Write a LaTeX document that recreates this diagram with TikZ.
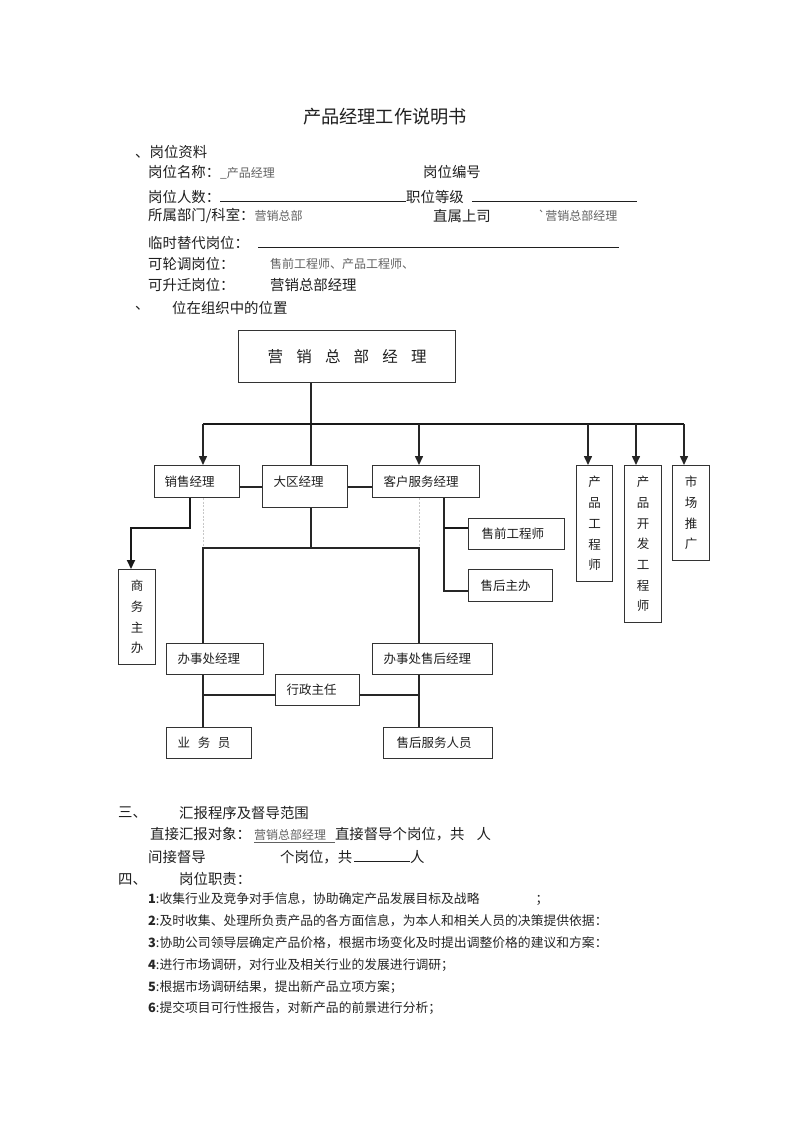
\documentclass[tikz,border=0pt]{standalone}
\usepackage{fontspec}
\setmainfont{Noto Sans CJK SC}
\usetikzlibrary{arrows.meta}
\newcommand\smtxt[1]{{\fontsize{12}{14}\selectfont\color{black!62}#1}}
\newcommand\gp{\hspace{13.2pt}}
\begin{document}
\begin{tikzpicture}[x=1pt,y=-1pt,
  box/.style={draw=black!80, line width=1.2pt, anchor=north west, inner ysep=0pt, inner xsep=11pt,
    font=\fontsize{12.5}{14}\selectfont, text=black!88, align=left},
  vbox/.style={draw=black!80, line width=1.2pt, anchor=north west, inner sep=0pt,
    font=\fontsize{12.5}{20.7}\selectfont, text=black!88, align=center},
  ln/.style={line width=1.2pt, draw=black!85},
  thk/.style={line width=2pt, draw=black!90},
  arr/.style={-{Triangle[length=9pt,width=8pt]}},
  dotl/.style={draw=black!22, line width=0.9pt, dash pattern=on 2pt off 1.5pt},
  txt/.style={anchor=west, inner sep=0pt, font=\fontsize{14.4}{16}\selectfont, text=black!88},
  item/.style={anchor=west, inner sep=0pt, font=\fontsize{12.8}{15}\selectfont, text=black!85}]
\useasboundingbox[fill=white] (0,0) rectangle (800,1132);

% ---------- header text ----------
\node[anchor=center, inner sep=0pt, font=\fontsize{18.2}{20}\selectfont, text=black!88] (title) at (385,117) {产品经理工作说明书};
\node[txt] (t1) at (135,152) {、岗位资料};
\node[txt] (t2) at (148,172) {岗位名称：\smtxt{\_产品经理}};
\node[txt] (t3) at (423,172) {岗位编号};
\node[txt] (t4) at (148,197) {岗位人数：\rule[0.5pt]{186pt}{0.8pt}职位等级\hspace{8pt}\rule[0.5pt]{165pt}{0.8pt}};
\node[txt] (t5) at (148,216) {所属部门/科室：\smtxt{营销总部}};
\node[txt] (t6) at (433,216) {直属上司};
\node[txt] (t7) at (538,216) {\smtxt{\textasciigrave 营销总部经理}};
\node[txt] (t8) at (148,243) {临时替代岗位：\hspace{9pt}\rule[0.5pt]{361pt}{0.8pt}};
\node[txt] (t9) at (148,264) {可轮调岗位：};
\node[txt] (t10) at (270,264) {\smtxt{售前工程师、产品工程师、}};
\node[txt] (t11) at (148,285) {可升迁岗位：};
\node[txt] (t12) at (270,285) {营销总部经理};
\node[txt] (t13) at (135,308) {、};
\node[txt] (t14) at (172,308) {位在组织中的位置};

% ---------- org chart boxes ----------
\node[box, inner xsep=0pt, align=center, minimum width=217pt, minimum height=52pt,
  font=\fontsize{15.5}{17}\selectfont] (gm) at (238,330) {营\gp 销\gp 总\gp 部\gp 经\gp 理};
\node[box, inner xsep=10pt, minimum width=85pt, minimum height=32pt, text width=65pt] (xs) at (154,465) {销售经理};
\node[box, minimum width=85pt, minimum height=42pt, text width=63pt, text height=8pt, text depth=8pt] (dq) at (262,465) {大区经理};
\node[box, minimum width=107pt, minimum height=32pt, text width=85pt] (kf) at (372,465) {客户服务经理};
\node[vbox, minimum width=36pt, minimum height=116pt] (cp1) at (576,465) {产\\品\\工\\程\\师};
\node[vbox, minimum width=37pt, minimum height=157pt] (cp2) at (624,465) {产\\品\\开\\发\\工\\程\\师};
\node[vbox, minimum width=37pt, minimum height=95pt] (sc) at (672,465) {市\\场\\推\\广};
\node[box, inner xsep=13pt, minimum width=96pt, minimum height=31pt, text width=70pt] (sq) at (468,518) {售前工程师};
\node[box, inner xsep=12pt, minimum width=84pt, minimum height=32pt, text width=60pt] (sz) at (468,569) {售后主办};
\node[vbox, minimum width=37pt, minimum height=95pt] (sw) at (118,569) {商\\务\\主\\办};
\node[box, minimum width=97pt, minimum height=31pt, text width=75pt] (bs) at (166,643) {办事处经理};
\node[box, minimum width=120pt, minimum height=31pt, text width=98pt] (bsh) at (372,643) {办事处售后经理};
\node[box, minimum width=84pt, minimum height=31pt, text width=62pt] (xz) at (275,674) {行政主任};
\node[box, minimum width=85pt, minimum height=31pt, text width=63pt] (yw) at (166,727) {业\hspace{7.7pt}务\hspace{7.7pt}员};
\node[box, inner xsep=13pt, minimum width=109pt, minimum height=31pt, text width=83pt] (sh) at (383,727) {售后服务人员};

% ---------- connectors ----------
\coordinate (bL) at (203,424);
\coordinate (bM) at (311,424);
\coordinate (bK) at (419,424);
\coordinate (b1) at (588,424);
\coordinate (b2) at (636,424);
\coordinate (bR) at (684,424);
\draw[ln] (bM |- gm.south) -- (bM |- dq.north);
\draw[thk] (bL) -- (bR);
\draw[ln, line width=1.5pt, arr] (bL) -- (bL |- xs.north);
\draw[ln, line width=1.5pt, arr] (bK) -- (bK |- kf.north);
\draw[ln, line width=1.5pt, arr] (b1) -- (b1 |- cp1.north);
\draw[ln, line width=1.5pt, arr] (b2) -- (b2 |- cp2.north);
\draw[ln, line width=1.5pt, arr] (bR) -- (bR |- sc.north);

\coordinate (r1) at (0,487);
\draw[ln] (xs.east |- r1) -- (dq.west |- r1);
\draw[ln] (dq.east |- r1) -- (kf.west |- r1);

\coordinate (hL) at (203,548);
\coordinate (hR) at (419,548);
\draw[dotl] (hL |- xs.south) -- (hL);
\draw[dotl] (hR |- kf.south) -- (hR);
\draw[ln] (bM |- dq.south) -- (bM |- hL);
\draw[ln] (hL |- bs.north) -- (hL) -- (hR) -- (hR |- bsh.north);

\coordinate (s1) at (190,528);
\coordinate (s2) at (131,528);
\draw[thk, arr] (s1 |- xs.south) -- (s1) -- (s2) -- (s2 |- sw.north);

\coordinate (c1) at (444,528);
\coordinate (c2) at (444,591);
\draw[ln] (c1 |- kf.south) -- (c2) -- (sz.west |- c2);
\draw[thk] (c1) -- (sq.west |- c1);

\coordinate (l1) at (203,695);
\coordinate (l2) at (419,695);
\draw[ln] (l1 |- bs.south) -- (l1 |- yw.north);
\draw[ln] (l2 |- bsh.south) -- (l2 |- sh.north);
\draw[ln] (l1) -- (xz.west |- l1);
\draw[ln] (xz.east |- l1) -- (l2);

% ---------- lower text ----------
\node[txt] (u1) at (118,813) {三、};
\node[txt] (u2) at (179,813) {汇报程序及督导范围};
\node[txt] (u3) at (150,835) {直接汇报对象：\hspace{3pt}\smtxt{\underline{营销总部经理\hspace{9pt}}}直接督导个岗位，共\hspace{12pt}人};
\node[txt] (u4) at (148,857) {间接督导};
\node[txt] (u5) at (280,857) {个岗位，共\hspace{2pt}\rule[0.5pt]{56pt}{0.8pt}人};
\node[txt] (u6) at (118,879) {四、};
\node[txt] (u7) at (179,879) {岗位职责：};
\node[item] (i1) at (148,899) {\textbf{1}:收集行业及竞争对手信息，协助确定产品发展目标及战略\hspace{56pt}；};
\node[item] (i2) at (148,921) {\textbf{2}:及时收集、处理所负责产品的各方面信息，为本人和相关人员的决策提供依据：};
\node[item] (i3) at (148,943) {\textbf{3}:协助公司领导层确定产品价格，根据市场变化及时提出调整价格的建议和方案：};
\node[item] (i4) at (148,965) {\textbf{4}:进行市场调研，对行业及相关行业的发展进行调研；};
\node[item] (i5) at (148,987) {\textbf{5}:根据市场调研结果，提出新产品立项方案；};
\node[item] (i6) at (148,1008) {\textbf{6}:提交项目可行性报告，对新产品的前景进行分析；};
\end{tikzpicture}
\end{document}
